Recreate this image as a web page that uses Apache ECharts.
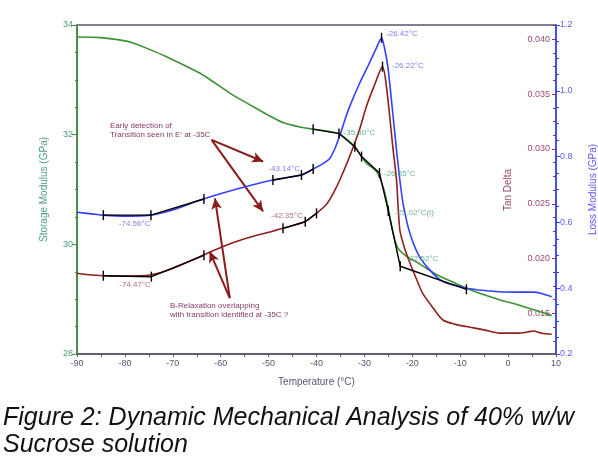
<!DOCTYPE html>
<html>
<head>
<meta charset="utf-8">
<script src="https://cdn.jsdelivr.net/npm/echarts@6/dist/echarts.min.js"></script>
<style>
  html, body { margin: 0; padding: 0; background: #fff; }
  #main { width: 598px; height: 464px; }
</style>
</head>
<body>
<div id="main"></div>
<script>
// storage modulus E' (GPa), green
var storageT = [-90, -85, -80, -78.3, -75, -71.3, -64.3, -57.4, -53, -50.4, -47, -43.5, -40.7, -37.5, -35.3, -32.0, -30.6, -29.6, -27.5, -26.1, -25.1, -24.0, -23.0, -21.2, -19.2, -17.0, -15.0, -12.0, -8.7, -5, -1.8, 2, 5.2, 9.1];
var storageE = [33.78, 33.77, 33.71, 33.67, 33.56, 33.42, 33.12, 32.72, 32.50, 32.37, 32.22, 32.14, 32.10, 32.06, 32.02, 31.78, 31.60, 31.48, 31.33, 31.05, 30.69, 30.20, 29.93, 29.78, 29.68, 29.56, 29.45, 29.33, 29.20, 29.08, 28.99, 28.90, 28.81, 28.70];

// loss modulus E'' (GPa), blue
var lossT = [-90, -87, -84.5, -80, -74.8, -70, -64.3, -57, -49.1, -43.1, -40.7, -38.5, -37.2, -36, -35, -34, -33, -31, -29, -27.5, -26.42, -25.8, -25.1, -24.2, -23.3, -22.6, -21.9, -20.5, -18.5, -15.7, -13.6, -11, -8.7, -5, -1.8, 2, 5.2, 7, 9.1];
var lossE = [0.631, 0.626, 0.622, 0.619, 0.622, 0.638, 0.668, 0.700, 0.729, 0.744, 0.762, 0.780, 0.795, 0.830, 0.870, 0.915, 0.955, 1.023, 1.083, 1.130, 1.161, 1.130, 1.073, 0.950, 0.820, 0.729, 0.655, 0.567, 0.496, 0.445, 0.420, 0.408, 0.400, 0.393, 0.389, 0.388, 0.388, 0.384, 0.374];

// tan delta, dark red
var tanT = [-90, -87, -84.5, -80, -74.8, -70, -63.7, -59.5, -55, -50, -47, -42.5, -40, -38, -36.5, -35, -33.1, -31, -29.6, -28, -26.22, -25.4, -24.0, -23.3, -22.6, -21.5, -20.5, -19, -17.8, -15.5, -13.6, -11, -8.7, -5, -1.8, 2, 4, 5.2, 7, 9.1];
var tanD = [0.01866, 0.0185, 0.01844, 0.0184, 0.0185, 0.0191, 0.0203, 0.0211, 0.0218, 0.0224, 0.02276, 0.02336, 0.02413, 0.0249, 0.02595, 0.0273, 0.0293, 0.0318, 0.03385, 0.0357, 0.0375, 0.0357, 0.0299, 0.0272, 0.0226, 0.0208, 0.0196, 0.0180, 0.0168, 0.0154, 0.0144, 0.0140, 0.0138, 0.0135, 0.0132, 0.0132, 0.0133, 0.0134, 0.0132, 0.0131];

// onset tangent constructions (black)
var tangentE = [[-40.7, 32.10], [-35.3, 32.02], [-32.0, 31.78], [-30.6, 31.60], [-26.85, 31.30], [-25.02, 30.61], [-22.52, 29.60], [-8.7, 29.18]];
var tangentLossA = [[-84.5, 0.622], [-74.56, 0.622], [-63.5, 0.671]];
var tangentLossB = [[-49.1, 0.729], [-43.14, 0.744], [-40.7, 0.762]];
var tangentTanA = [[-84.5, 0.01844], [-74.47, 0.01835], [-63.5, 0.0203]];
var tangentTanB = [[-47.0, 0.02276], [-42.35, 0.02336], [-40.0, 0.02413]];
var lossPeak = [[-26.42, 1.161]];
var tanPeak = [[-26.22, 0.0375]];

// labelled points
var storageTags = [[-35.30, 32.02], [-26.85, 31.30], [-25.02, 30.61], [-22.52, 29.60]];
var storageTagText = ['-35.30°C', '-26.85°C', '-25.02°C(I)', '-22.52°C'];
var lossTags = [[-26.42, 1.161], [-43.14, 0.744], [-74.56, 0.622]];
var lossTagText = ['-26.42°C', '-43.14°C', '-74.56°C'];
var tanTags = [[-26.22, 0.0375], [-42.35, 0.02336], [-74.47, 0.01835]];
var tanTagText = ['-26.22°C', '-42.35°C', '-74.47°C'];

// annotation arrows, in (temperature, storage modulus) units
var arrowEStart = [-61.9, 31.905];
var arrowEEnds = [[-51.15, 31.51], [-51.15, 30.60]];
var arrowBStart = [-58.1, 29.02];
var arrowBEnds = [[-61.2, 30.84], [-62.3, 29.87]];

var tanTicks = [0.015, 0.020, 0.025, 0.030, 0.035, 0.040];
var tanMinorTicks = [0.01125, 0.0125, 0.01375, 0.01625, 0.0175, 0.01875, 0.02125, 0.0225, 0.02375, 0.02625, 0.0275, 0.02875, 0.03125, 0.0325, 0.03375, 0.03625, 0.0375, 0.03875, 0.04125];

var FONT = 'Liberation Sans, Arial, sans-serif';
var GREEN = '#3a9232';
var BLUE = '#3340ff';
var RED = '#8f2020';
var GREEN_TXT = '#4aa07a';
var BLUE_TXT = '#5c5cff';
var MAUVE = '#9a4a70';
var AXIS = '#55566f';

function zip(a, b) { return a.map(function (v, i) { return [v, b[i]]; }); }

function tagSeries(yIndex, points, texts, places) {
  return {
    type: 'scatter', yAxisIndex: yIndex, symbolSize: 1, silent: true, z: 12,
    itemStyle: { color: 'rgba(0,0,0,0)' },
    data: points.map(function (p, i) {
      return {
        value: p,
        label: {
          show: true, formatter: texts[i], position: places[i][0],
          align: places[i][1], verticalAlign: 'middle',
          color: places[i][2], fontSize: 8, fontFamily: FONT
        }
      };
    })
  };
}

function tangent(yIndex, pts) {
  return {
    type: 'line', yAxisIndex: yIndex, data: pts, z: 8, silent: true,
    lineStyle: { color: '#000', width: 1.4 },
    itemStyle: { color: '#000' },
    symbol: 'rect', symbolSize: [1.4, 10], showAllSymbol: true
  };
}

function arrows(start, ends) {
  return ends.map(function (e) { return [{ coord: start }, { coord: e }]; });
}

var chart = echarts.init(document.getElementById('main'));

var option = {
  animation: false,
  grid: {
    left: 77, right: 42, top: 25, bottom: 110, containLabel: false, outerBoundsMode: 'none',
    show: true, borderColor: AXIS, borderWidth: 1.5
  },
  xAxis: {
    type: 'value', min: -90, max: 10, interval: 10,
    name: 'Temperature (°C)', nameLocation: 'middle', nameGap: 23,
    nameTextStyle: { color: AXIS, fontSize: 10, fontFamily: FONT },
    axisLine: { onZero: false, lineStyle: { color: AXIS, width: 1.5 } },
    axisTick: { length: 3, lineStyle: { color: AXIS } },
    minorTick: { show: true, splitNumber: 2, length: 3, lineStyle: { color: AXIS } },
    axisLabel: { color: AXIS, fontSize: 9, fontFamily: FONT, margin: 5 },
    splitLine: { show: false }
  },
  yAxis: [
    {
      type: 'value', min: 28, max: 34, interval: 2, position: 'left',
      name: 'Storage Modulus (GPa)', nameLocation: 'middle', nameGap: 28,
      nameTextStyle: { color: GREEN_TXT, fontSize: 10, fontFamily: FONT },
      axisLine: { show: true, onZero: false, lineStyle: { color: GREEN, width: 1.5 } },
      axisTick: { length: 5, lineStyle: { color: GREEN } },
      minorTick: { show: true, splitNumber: 4, length: 2, lineStyle: { color: GREEN } },
      axisLabel: { color: GREEN_TXT, fontSize: 9, fontFamily: FONT, margin: 4 },
      splitLine: { show: false }
    },
    {
      type: 'value', min: 0.0113, max: 0.0413, position: 'right',
      axisLine: { show: false, onZero: false },
      axisTick: { show: true, inside: true, length: 4, customValues: tanTicks, lineStyle: { color: '#a03050' } },
      axisLabel: {
        inside: true, color: MAUVE, fontSize: 9, fontFamily: FONT, margin: 6,
        customValues: tanTicks,
        formatter: function (v) { return v.toFixed(3); }
      },
      splitLine: { show: false }
    },
    {
      type: 'value', min: 0.2, max: 1.2, interval: 0.2, position: 'right',
      name: 'Loss Modulus (GPa)', nameLocation: 'middle', nameGap: 32,
      nameTextStyle: { color: BLUE_TXT, fontSize: 10, fontFamily: FONT },
      axisLine: { show: true, onZero: false, lineStyle: { color: BLUE, width: 1.5 } },
      axisTick: { length: 4, lineStyle: { color: BLUE } },
      minorTick: { show: true, splitNumber: 4, length: 3, lineStyle: { color: BLUE } },
      axisLabel: { color: BLUE_TXT, fontSize: 9, fontFamily: FONT, margin: 4, formatter: function (v) { return v.toFixed(1); } },
      splitLine: { show: false }
    },
    {
      type: 'value', min: 0.0113, max: 0.0413, position: 'right',
      axisLine: { show: false, onZero: false },
      axisTick: { show: true, inside: true, length: 3, customValues: tanMinorTicks, lineStyle: { color: '#a03050' } },
      axisLabel: { show: false },
      splitLine: { show: false }
    }
  ],
  series: [
    {
      name: 'Storage Modulus', type: 'line', yAxisIndex: 0, data: zip(storageT, storageE),
      smooth: 0.25, symbol: 'none', z: 3,
      lineStyle: { color: GREEN, width: 1.6 },
      markLine: {
        silent: true, animation: false, symbol: ['none', 'arrow'], symbolSize: [8, 11],
        label: { show: false },
        lineStyle: { color: '#8b1a1a', width: 2, type: 'solid' },
        data: arrows(arrowEStart, arrowEEnds).concat(arrows(arrowBStart, arrowBEnds))
      }
    },
    {
      name: 'Tan Delta', type: 'line', yAxisIndex: 1, data: zip(tanT, tanD),
      smooth: 0.25, symbol: 'none', z: 4,
      lineStyle: { color: RED, width: 1.6 }
    },
    {
      name: 'Loss Modulus', type: 'line', yAxisIndex: 2, data: zip(lossT, lossE),
      smooth: 0.25, symbol: 'none', z: 5,
      lineStyle: { color: BLUE, width: 1.6 }
    },
    tangent(0, tangentE),
    tangent(2, tangentLossA),
    tangent(2, tangentLossB),
    tangent(1, tangentTanA),
    tangent(1, tangentTanB),
    tangent(2, lossPeak),
    tangent(1, tanPeak),
    tagSeries(0, storageTags, storageTagText, [
      [[5, 0], 'left', GREEN_TXT],
      [[5, 1], 'left', GREEN_TXT],
      [[7, 2], 'left', GREEN_TXT],
      [[7, -7], 'left', GREEN_TXT]
    ]),
    tagSeries(2, lossTags, lossTagText, [
      [[5, -4], 'left', BLUE_TXT],
      [[-1, -6], 'right', BLUE_TXT],
      [[0, 9], 'right', BLUE_TXT]
    ]),
    tagSeries(1, tanTags, tanTagText, [
      [[10, 0], 'left', BLUE_TXT],
      [[-2, -5], 'right', MAUVE],
      [[0, 9], 'right', MAUVE]
    ])
  ],
  graphic: [
    {
      type: 'text', x: 508, y: 190, rotation: Math.PI / 2, silent: true,
      style: { text: 'Tan Delta', font: '10px ' + FONT, fill: MAUVE, align: 'center', verticalAlign: 'middle' }
    },
    {
      type: 'text', left: 110, top: 121, silent: true,
      style: { text: 'Early detection of\nTransition seen in E\' at -35C', font: '8px ' + FONT, fill: '#8a3a66', lineHeight: 9 }
    },
    {
      type: 'text', left: 170, top: 301, silent: true,
      style: { text: 'B-Relaxation overlapping\nwith transition identified at -35C ?', font: '8px ' + FONT, fill: '#8a3a66', lineHeight: 9 }
    },
    {
      type: 'text', left: 3, top: 405, silent: true,
      style: { text: 'Figure 2: Dynamic Mechanical Analysis of 40% w/w\nSucrose solution', font: 'italic 25px ' + FONT, fill: '#111', lineHeight: 27 }
    }
  ]
};

chart.setOption(option);
</script>
</body>
</html>
